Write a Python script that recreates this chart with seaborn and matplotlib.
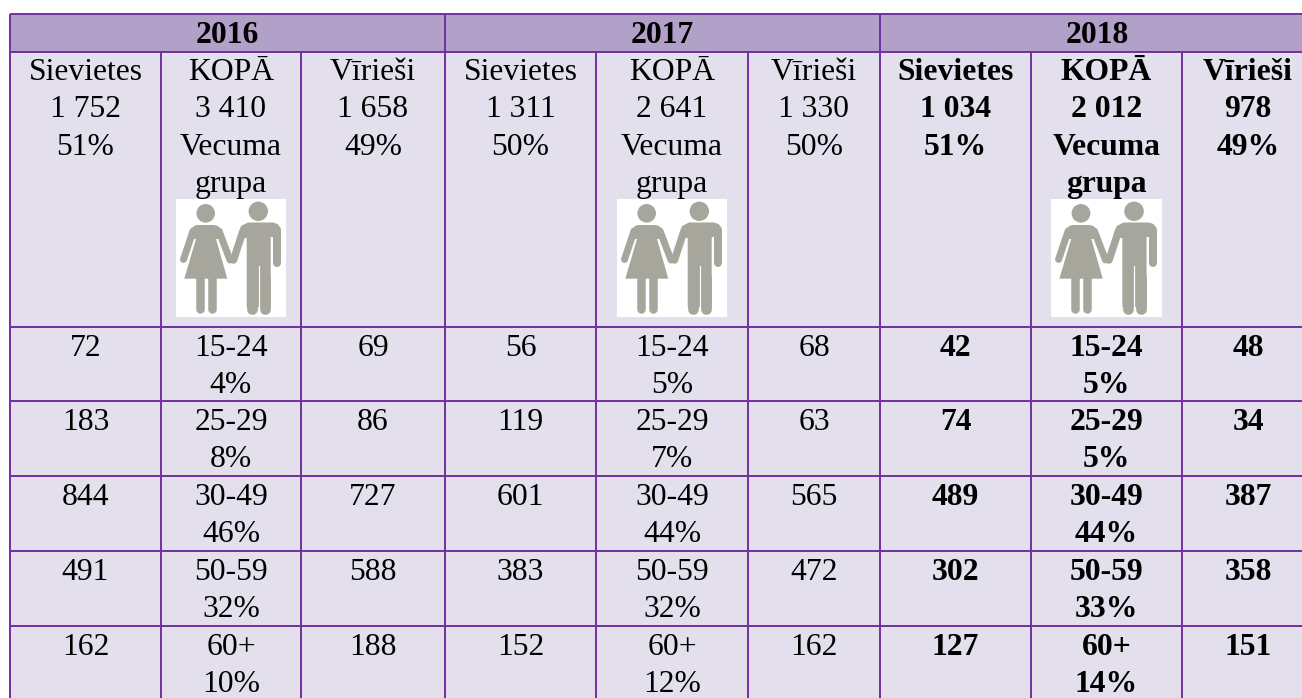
import numpy as np
import matplotlib
matplotlib.use("Agg")
import matplotlib.pyplot as plt
from matplotlib.colors import ListedColormap
from matplotlib.patches import Circle, Polygon, Rectangle
from matplotlib.transforms import Affine2D
import seaborn as sns

# ---------- data ----------
years = ["2016", "2017", "2018"]
col_women = "Sievietes"
col_total = "KOPĀ"
col_men = "Vīrieši"
age_title = ["Vecuma", "grupa"]
age_groups = ["15-24", "25-29", "30-49", "50-59", "60+"]

women_total = ["1 752", "1 311", "1 034"]
all_total = ["3 410", "2 641", "2 012"]
men_total = ["1 658", "1 330", "978"]
women_share = ["51%", "50%", "51%"]
men_share = ["49%", "50%", "49%"]

women_2016 = [72, 183, 844, 491, 162]
men_2016 = [69, 86, 727, 588, 188]
share_2016 = ["4%", "8%", "46%", "32%", "10%"]
women_2017 = [56, 119, 601, 383, 152]
men_2017 = [68, 63, 565, 472, 162]
share_2017 = ["5%", "7%", "44%", "32%", "12%"]
women_2018 = [42, 74, 489, 302, 127]
men_2018 = [48, 34, 387, 358, 151]
share_2018 = ["5%", "5%", "44%", "33%", "14%"]

women = [women_2016, women_2017, women_2018]
men = [men_2016, men_2017, men_2018]
shares = [share_2016, share_2017, share_2018]

# ---------- layout (pixels of the 1302x698 canvas) ----------
W, H = 1302, 698
x_edges = np.array([10, 161, 301, 445, 596, 748, 880, 1031, 1182, 1314], float)
y_edges = np.array([14, 52, 327, 401, 476, 551, 626, 701], float)
icon_boxes = [(176, 286), (617, 727), (1051, 1162)]
ICON_TOP, ICON_BOTTOM = 199, 317

HEADER = "#B1A0C7"
CELL = "#E4DFEC"
LINE = "#7030A0"
ICON = "#A7A69C"
FS = 22.75
LW = 1.4

sns.set_theme(style="white")
plt.rcParams["font.family"] = ["Liberation Serif", "DejaVu Serif"]

fig = plt.figure(figsize=(W / 100, H / 100), dpi=100, facecolor="white")
ax = fig.add_axes([x_edges[0] / W, 1 - y_edges[-1] / H,
                   (x_edges[-1] - x_edges[0]) / W, (y_edges[-1] - y_edges[0]) / H])

# cell backgrounds: a heatmap whose axes are stretched to the table's column / row sizes
kinds = np.ones((len(y_edges) - 1, len(x_edges) - 1))
kinds[0, :] = 0
sns.heatmap(kinds, ax=ax, cmap=ListedColormap([HEADER, CELL]), vmin=0, vmax=1,
            cbar=False, xticklabels=False, yticklabels=False)

ix = np.arange(len(x_edges), dtype=float)
iy = np.arange(len(y_edges), dtype=float)
ax.set_xscale("function", functions=(lambda v: np.interp(v, ix, x_edges),
                                     lambda v: np.interp(v, x_edges, ix)))
ax.set_yscale("function", functions=(lambda v: np.interp(v, iy, y_edges),
                                     lambda v: np.interp(v, y_edges, iy)))
ax.set_xlim(0, len(x_edges) - 1)
ax.set_ylim(len(y_edges) - 1, 0)
ax.minorticks_off()
ax.set_xticks([])
ax.set_yticks([])
for s in ax.spines.values():
    s.set_visible(False)

# grid lines
ax.hlines(np.arange(0, 7), 0, 9, color=LINE, lw=LW, clip_on=False, zorder=3)
ax.vlines([0, 3, 6], 0, 7, color=LINE, lw=LW, clip_on=False, zorder=3)
ax.vlines([1, 2, 4, 5, 7, 8], 1, 7, color=LINE, lw=LW, clip_on=False, zorder=3)

# everything below is placed in canvas pixels
px = Affine2D().scale(1, -1).translate(0, H)


def put(x, y, s, bold=False):
    fig.text(x, y, s, transform=px, ha="center", va="baseline", fontsize=FS,
             color="black", fontweight="bold" if bold else "normal",
             family=["Liberation Serif", "DejaVu Serif"])


def centre(i):
    return (x_edges[i] + x_edges[i + 1]) / 2


# icon outline, in pixels relative to its white box
woman_body = np.array([[21, 26], [38, 26], [42, 27], [45.5, 31], [47, 40], [40, 40],
                       [51.3, 79.7], [8.3, 79.7], [20, 40], [13, 40], [14.5, 31], [18, 27]])
man_body = np.array([[72, 23.5], [97, 23.5], [101.5, 25], [104.7, 29], [104.7, 38], [94.7, 38],
                     [94.7, 108], [70.7, 108], [70.7, 39], [62, 38], [65, 27]])


def icon(x0, x1):
    ox, oy = x0, ICON_TOP
    sx = (x1 - x0) / 110
    T = Affine2D().scale(sx, 1).translate(ox, oy) + px
    fig.add_artist(Rectangle((x0, ICON_TOP), x1 - x0, ICON_BOTTOM - ICON_TOP, transform=px,
                             fc="white", ec="none", zorder=4))
    art = [Circle((29.7, 14.3), 9.3), Circle((82.3, 12.3), 9.7),
           Polygon(woman_body, closed=True), Polygon(man_body, closed=True)]
    for a in art:
        a.set(transform=T, fc=ICON, ec="none", zorder=5)
        fig.add_artist(a)
    limbs = [((17, 32), (7.5, 60.5), 7),       # woman's left arm
             ((43, 32), (54, 61), 7),          # woman's right arm
             ((67, 32), (57.5, 61), 7.5),      # man's left arm
             ((100.7, 32), (100.7, 63.5), 8),  # man's right arm
             ((24, 78), (24, 110), 8.5),       # woman's legs
             ((35.5, 78), (35.5, 110), 8.5),
             ((76.2, 78), (76.2, 110), 10.8),  # man's legs
             ((89.2, 78), (89.2, 110), 10.8)]
    for a, b, w in limbs:
        l = plt.Line2D([a[0], b[0]], [a[1], b[1]], transform=T, color=ICON, lw=w * 0.72,
                       solid_capstyle="round", zorder=5)
        fig.add_artist(l)
    gap = plt.Line2D([82.7, 82.7], [67, 116], transform=T, color="white", lw=0.9, zorder=6)
    fig.add_artist(gap)


HEAD_BASE = 43.3
TOP_BASE = 80.0
STEP = 37.4
ROW_FIRST = 29.0

for k, year in enumerate(years):
    c = 3 * k
    bold = k == 2
    put((x_edges[c] + x_edges[c + 3]) / 2, HEAD_BASE, year, True)
    for j, (col, lines) in enumerate([
        (c, [col_women, women_total[k], women_share[k]]),
        (c + 1, [col_total, all_total[k]] + age_title),
        (c + 2, [col_men, men_total[k], men_share[k]]),
    ]):
        for n, s in enumerate(lines):
            put(centre(col), TOP_BASE + n * STEP, s, bold)
    icon(*icon_boxes[k])
    for r in range(len(age_groups)):
        top = y_edges[r + 2]
        put(centre(c), top + ROW_FIRST, str(women[k][r]), bold)
        put(centre(c + 1), top + ROW_FIRST, age_groups[r], bold)
        put(centre(c + 1), top + ROW_FIRST + STEP, shares[k][r], bold)
        put(centre(c + 2), top + ROW_FIRST, str(men[k][r]), bold)

fig.savefig("out.png", dpi=100, facecolor="white")
